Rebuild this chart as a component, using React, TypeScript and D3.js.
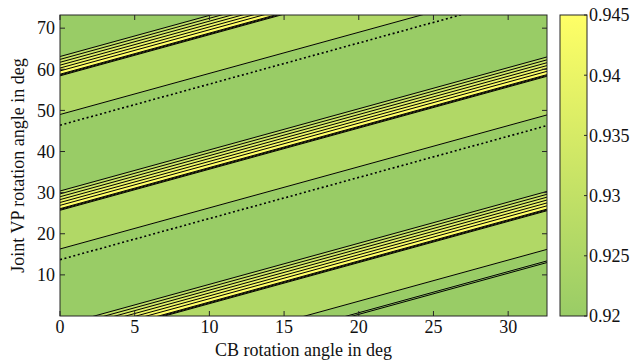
import * as d3 from 'd3'
import React from 'react'

// contour crossings for one period, as intercepts u = y - x (deg)
const PERIOD = 32.7
const periods = [-2, -1, 0, 1, 2]
const edgeU = [13.7, 16.3, 25.7, 25.9, 26.1, 26.9, 27.6, 28.3, 29.0, 29.7, 30.4]
// value of the band that starts at each edge (last one runs to the next period)
const bandValue = [0.92, 0.926, 0.935, 0.94, 0.945, 0.943, 0.94, 0.937, 0.933, 0.929, 0.92]
// style of the minimum line in each period
const minStyle = ['double', 'double', 'dotted', 'dotted', 'dotted']

const xTicks = [0, 5, 10, 15, 20, 25, 30]
const yTicks = [10, 20, 30, 40, 50, 60, 70]
const cbTicks = [0.92, 0.925, 0.93, 0.935, 0.94, 0.945]
const cbTickLabels = ['0.92', '0.925', '0.93', '0.935', '0.94', '0.945']

const W = 636
const H = 363
const plot = { left: 60, right: 547, top: 15, bottom: 316 }
const cb = { left: 560, right: 587 }
const font = "'Liberation Serif', 'Times New Roman', serif"
const axisColor = '#262626'

export default function App() {
  const x = d3.scaleLinear().domain([0, 32.6]).range([plot.left, plot.right])
  const y = d3.scaleLinear().domain([0, 73.2]).range([plot.bottom, plot.top])
  const color = d3.scaleLinear<string>().domain([0.92, 0.945]).range(['#99cc66', '#ffff66'])
  const cbScale = d3.scaleLinear().domain([0.92, 0.945]).range([plot.bottom, plot.top])
  const xs = x.domain()

  const band = (u0: number, u1: number) =>
    d3.area<number>().x(d => x(d)).y0(d => y(d + u0)).y1(d => y(d + u1))(xs) || ''
  const line = (u: number) =>
    d3.line<number>().x(d => x(d)).y(d => y(d + u))(xs) || ''

  const bands: JSX.Element[] = []
  const lines: JSX.Element[] = []
  periods.forEach((k, pi) => {
    const off = k * PERIOD
    edgeU.forEach((u, i) => {
      const next = i < edgeU.length - 1 ? edgeU[i + 1] : edgeU[0] + PERIOD
      bands.push(
        <path key={`b${k}_${i}`} d={band(u + off, next + off)} fill={color(bandValue[i])} stroke={color(bandValue[i])} strokeWidth={0.5} />
      )
    })
    edgeU.forEach((u, i) => {
      if (i === 0) {
        if (minStyle[pi] === 'double') {
          lines.push(<path key={`l${k}_a`} d={line(u + off - 0.2)} stroke="#000" strokeWidth={1} fill="none" />)
          lines.push(<path key={`l${k}_b`} d={line(u + off - 0.6)} stroke="#000" strokeWidth={1} fill="none" />)
        } else {
          lines.push(<path key={`l${k}_0`} d={line(u + off)} stroke="#000" strokeWidth={1.6} strokeDasharray="2 2.6" fill="none" />)
        }
      } else {
        lines.push(<path key={`l${k}_${i}`} d={line(u + off)} stroke="#000" strokeWidth={1} fill="none" />)
      }
    })
  })

  return (
    <svg width={W} height={H} style={{ position: 'absolute', left: 0, top: 0, background: '#fff' }}>
      <defs>
        <clipPath id="plotClip">
          <rect x={plot.left} y={plot.top} width={plot.right - plot.left} height={plot.bottom - plot.top} />
        </clipPath>
        <linearGradient id="cbGrad" x1="0" y1="1" x2="0" y2="0">
          <stop offset="0%" stopColor={color(0.92)} />
          <stop offset="100%" stopColor={color(0.945)} />
        </linearGradient>
      </defs>

      <g clipPath="url(#plotClip)">
        {bands}
        {lines}
      </g>

      {/* axes frame and ticks */}
      <rect x={plot.left} y={plot.top} width={plot.right - plot.left} height={plot.bottom - plot.top}
        fill="none" stroke={axisColor} strokeWidth={1} />
      {xTicks.map(t => (
        <g key={`xt${t}`}>
          <line x1={x(t)} x2={x(t)} y1={plot.bottom} y2={plot.bottom - 5} stroke={axisColor} />
          <line x1={x(t)} x2={x(t)} y1={plot.top} y2={plot.top + 5} stroke={axisColor} />
          <text x={x(t)} y={333} textAnchor="middle" fontFamily={font} fontSize={18} fill="#111">{t}</text>
        </g>
      ))}
      {yTicks.map(t => (
        <g key={`yt${t}`}>
          <line x1={plot.left} x2={plot.left + 5} y1={y(t)} y2={y(t)} stroke={axisColor} />
          <line x1={plot.right} x2={plot.right - 5} y1={y(t)} y2={y(t)} stroke={axisColor} />
          <text x={55} y={y(t)} dy="0.35em" textAnchor="end" fontFamily={font} fontSize={18} fill="#111">{t}</text>
        </g>
      ))}
      <text x={(plot.left + plot.right) / 2} y={356} textAnchor="middle" fontFamily={font} fontSize={18} fill="#111">
        CB rotation angle in deg
      </text>
      <text transform={`translate(24,${(plot.top + plot.bottom) / 2}) rotate(-90)`} textAnchor="middle"
        fontFamily={font} fontSize={18} fill="#111">
        Joint VP rotation angle in deg
      </text>

      {/* colorbar */}
      <rect x={cb.left} y={plot.top} width={cb.right - cb.left} height={plot.bottom - plot.top}
        fill="url(#cbGrad)" stroke={axisColor} strokeWidth={1} />
      {cbTicks.map((t, i) => (
        <g key={`cb${t}`}>
          <line x1={cb.right} x2={cb.right - 3} y1={cbScale(t)} y2={cbScale(t)} stroke={axisColor} />
          <text x={cb.right + 2} y={cbScale(t)} dy="0.35em" fontFamily={font} fontSize={18} fill="#111">{cbTickLabels[i]}</text>
        </g>
      ))}
    </svg>
  )
}
